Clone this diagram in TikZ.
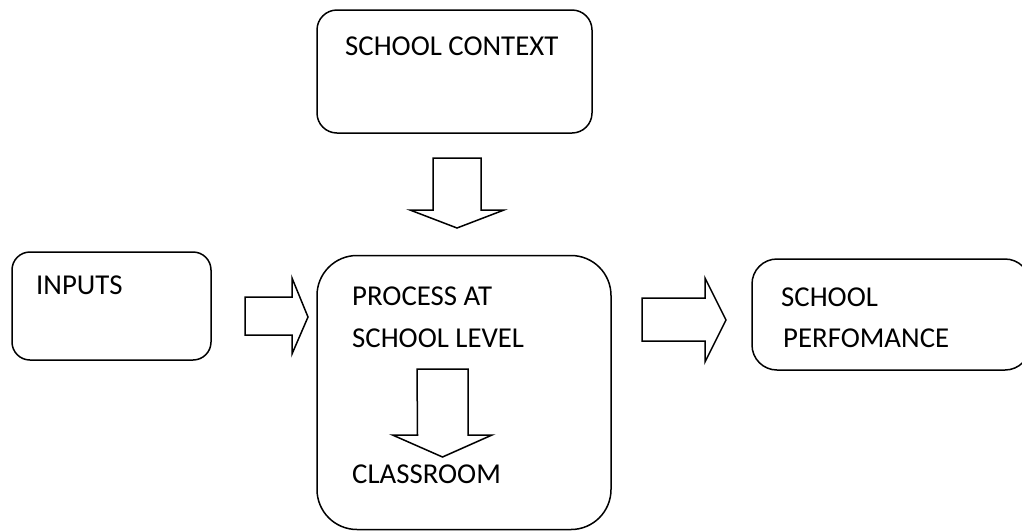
\documentclass[tikz,border=0pt]{standalone}
\usepackage{fontspec}
\setmainfont{Carlito}
\usepackage{tikz}
\usetikzlibrary{positioning,calc}

\begin{document}
\begin{tikzpicture}[
					x=1pt, y=-1pt,
					box/.style={
						draw=black, line width=1.5pt, rectangle,
						inner sep=0pt, rounded corners=#1
					},
					box/.default=20pt,
					label/.style={
						anchor=base west, inner sep=0pt,
						font=\fontsize{28.8}{34}\selectfont
					},
					blockarrow/.style={
						draw=black, line width=1.5pt, fill=white,
						line join=miter
					}
					]
					\useasboundingbox (0,0) rectangle (1022,531);
					
					% Hộp
					\node[box, minimum width=275pt, minimum height=123pt] (ctx) at (454.5,71.5) {};
					\node[box=18pt, minimum width=199pt, minimum height=108pt] (inp) at (111.5,306) {};
					\node[box=40pt, minimum width=294pt, minimum height=274pt] (proc) at (464,392.5) {};
					\node[box=25pt, minimum width=278pt, minimum height=111pt] (perf) at (891,314.5) {};
					
					% Chữ
					\node[label] (ctxtxt) at (345,55) {SCHOOL CONTEXT};
					\node[label] (inptxt) at (36,294) {INPUTS};
					\node[label] (proctxt) at (352,305) {PROCESS AT};
					\node[label] (proctxtb) at (352,347) {SCHOOL LEVEL};
					\node[label] (classtxt) at (352,483) {CLASSROOM};
					\node[label] (perftxt) at (781,306) {SCHOOL};
					\node[label] (perftxtb) at (783,347) {PERFOMANCE};
					
					% Mũi tên khối
					\coordinate (down1) at (457,158);
					\coordinate (down2) at (442.5,369);
					\coordinate (right1) at (245,316);
					\coordinate (right2) at (642,319.5);
					
					\draw[blockarrow] (down1) ++(-24,0) -- ++(48,0) -- ++(0,52) -- ++(23,0)
						-- (down1 |- 0,228) -- ++(-47,-18) -- ++(23,0) -- cycle;
					\draw[blockarrow] (down2) ++(-25.5,0) -- ++(51,0) -- ++(0,66) -- ++(24,0)
						-- (down2 |- 0,457) -- ++(-50,-22) -- ++(25,0) -- cycle;
					\draw[blockarrow] (right1) ++(0,-19) -- ++(47,0) -- ++(0,-19) -- (308,317)
						-- (292,354) -- ++(0,-19) -- ++(-47,0) -- cycle;
					\draw[blockarrow] (right2) ++(0,-21.5) -- ++(63,0) -- ++(0,-20) -- (726,320)
						-- (705,362) -- ++(0,-21) -- ++(-63,0) -- cycle;
				\end{tikzpicture}
\end{document}
